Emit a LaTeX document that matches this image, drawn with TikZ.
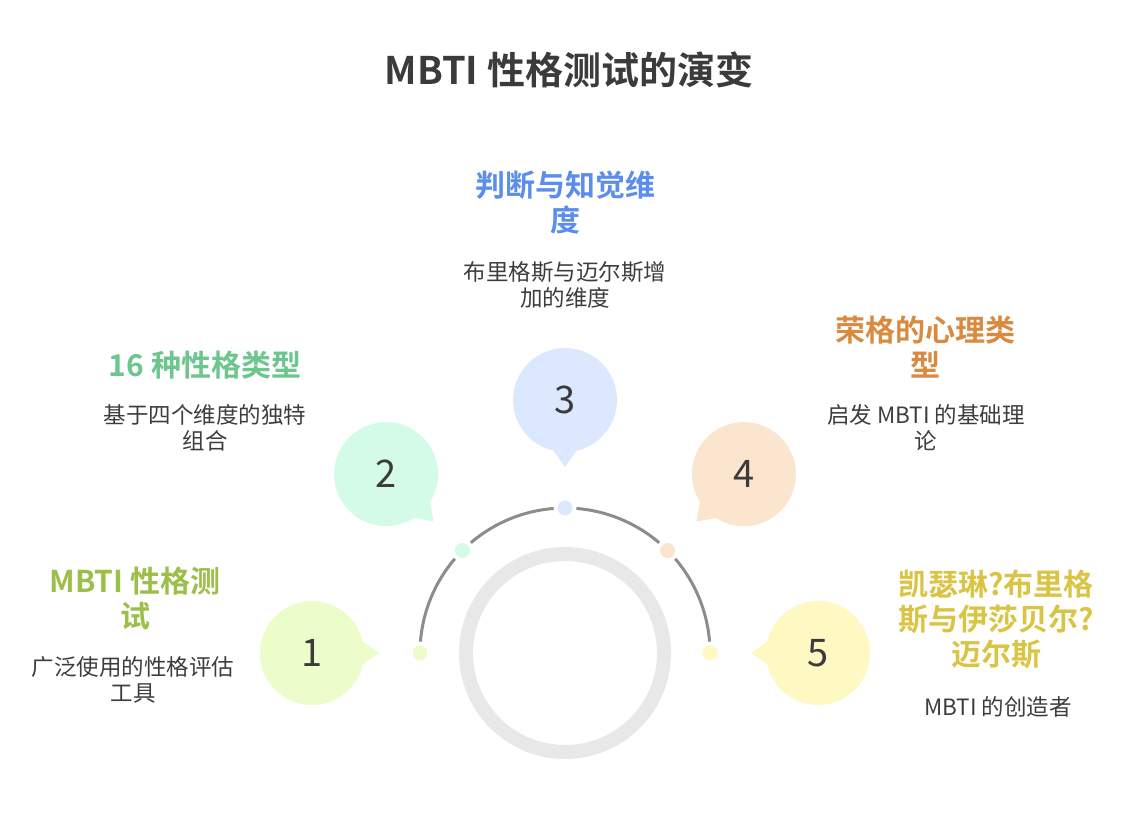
\documentclass[tikz,border=0pt]{standalone}
\usepackage{fontspec}
\setmainfont{Noto Sans CJK SC}[BoldFont={Noto Sans CJK SC Bold}]
\usepackage{tikz}
\usetikzlibrary{positioning}

\definecolor{fill1}{HTML}{ECFCCB}
\definecolor{fill2}{HTML}{D3FBE8}
\definecolor{fill3}{HTML}{DCE8FD}
\definecolor{fill4}{HTML}{FCE5CF}
\definecolor{fill5}{HTML}{FEF8C2}
\definecolor{text1}{HTML}{9CBF4A}
\definecolor{text2}{HTML}{6CC68E}
\definecolor{text3}{HTML}{5B8DEE}
\definecolor{text4}{HTML}{D98A3F}
\definecolor{text5}{HTML}{D9C444}
\definecolor{titlegray}{HTML}{3B3B3B}
\definecolor{descgray}{HTML}{3D3D3D}
\definecolor{arcgray}{HTML}{8C8C8C}
\definecolor{ringgray}{HTML}{E8E8E8}

\begin{document}
\begin{tikzpicture}[x=1pt,y=1pt,
    bubble/.style={circle,minimum size=104pt,inner sep=0pt,text=titlegray,font=\fontsize{38}{38}\selectfont},
    dot/.style={circle,minimum size=15pt,inner sep=0pt},
    arcline/.style={draw=arcgray,line width=3pt},
    head/.style={align=center,inner sep=0pt,font=\bfseries\fontsize{30}{35}\selectfont},
    desc/.style={align=center,inner sep=0pt,text=descgray,font=\fontsize{22.5}{26}\selectfont}]
    \useasboundingbox (0,0) rectangle (1124,814);
    \coordinate (ctr) at (565,161);

    % Title
    \node[inner sep=0pt,text=titlegray,font=\bfseries\fontsize{38}{38}\selectfont] (title) at (569,744) {MBTI 性格测试的演变};

    % Inner ring
    \draw[ringgray,line width=14pt] (ctr) circle (99);

    % Arc between the dots
    \foreach \s/\e in {175.5/139.5, 130.5/94.5, 85.5/49.5, 40.5/4.5} {
      \draw[arcline] ([shift={(\s:145)}]ctr) arc[start angle=\s, end angle=\e, radius=145];
    }

    % Dots, bubbles and their tails
    \foreach \i/\a in {1/180, 2/135, 3/90, 4/45, 5/0} {
      \node[dot,fill=fill\i] (dot\i) at ([shift={(\a:145)}]ctr) {};
      \coordinate (tip\i) at ([shift={(\a:186)}]ctr);
      \coordinate (mid\i) at ([shift={(\a:253)}]ctr);
      \fill[fill\i] (tip\i) -- ([shift={(\a+166:51)}]mid\i) -- ([shift={(\a+194:51)}]mid\i) -- cycle;
      \node[bubble,fill=fill\i] (bubble\i) at (mid\i) {\i};
    }

    % Headings and descriptions
    \node[head,text=text1] (head1) at (135,216) {MBTI 性格测\\试};
    \node[desc] (desc1) at (133,134) {广泛使用的性格评估\\工具};

    \node[head,text=text2] (head2) at (205,449) {16 种性格类型};
    \node[desc] (desc2) at (205,386) {基于四个维度的独特\\组合};

    \node[head,text=text3] (head3) at (565,611) {判断与知觉维\\度};
    \node[desc] (desc3) at (565,529) {布里格斯与迈尔斯增\\加的维度};

    \node[head,text=text4] (head4) at (925,467) {荣格的心理类\\型};
    \node[desc] (desc4) at (926,386) {启发 MBTI 的基础理\\论};

    \node[head,text=text5] (head5) at (996,195) {凯瑟琳?布里格\\斯与伊莎贝尔?\\迈尔斯};
    \node[desc] (desc5) at (998,107) {MBTI 的创造者};
\end{tikzpicture}
\end{document}
